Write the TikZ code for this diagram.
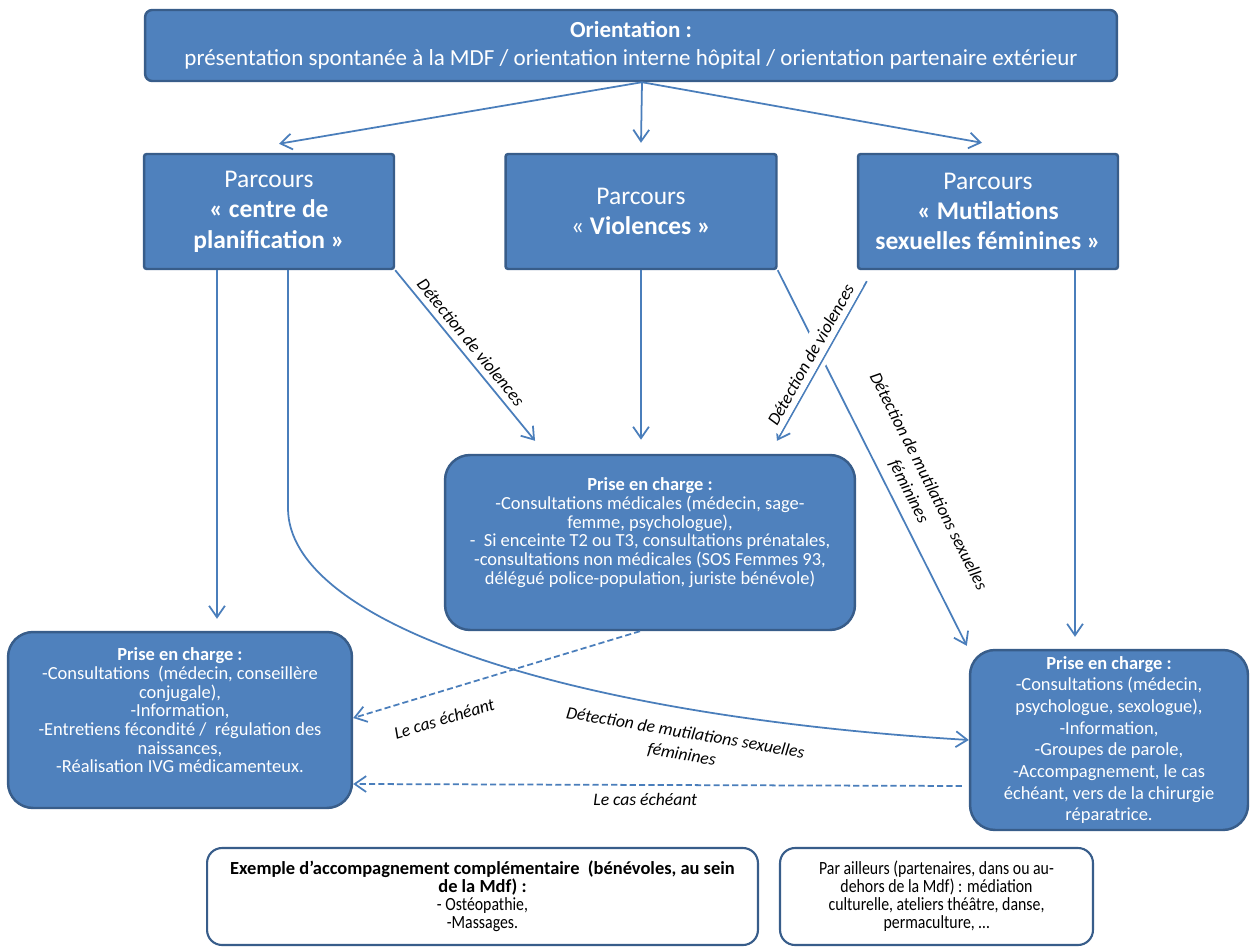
\documentclass[tikz,border=0pt]{standalone}
\usepackage{fontspec}
\setmainfont{Carlito}
\newfontfamily\narrowfont{Carlito}[FakeStretch=0.85]
\usetikzlibrary{arrows.meta}
\definecolor{boxblue}{HTML}{4F81BD}
\definecolor{boxedge}{HTML}{385D8A}
\definecolor{linkblue}{HTML}{4A7EBB}
\newcommand{\titrebas}[1]{{\rmfamily\bfseries\fontsize{10.5}{9.9}\selectfont #1}}
\tikzset{
	parcours/.style={draw=boxedge, line width=1.4pt, fill=boxblue, text=white, align=center, rounded corners=1.5pt, font=\fontsize{14.5}{17.3}\selectfont},
	prise/.style={draw=boxedge, line width=1.4pt, fill=boxblue, text=white, align=center, rounded corners=0.5cm, font=\fontsize{10.5}{10.6}\selectfont, inner sep=2pt},
	extra/.style={draw=boxedge, line width=1.2pt, fill=white, text=black, align=center, rounded corners=0.3cm, font=\narrowfont\fontsize{10.6}{10.2}\selectfont},
	link/.style={draw=linkblue, line width=1pt, -{Straight Barb[length=6.5pt,width=9pt]}},
	pointille/.style={dash pattern=on 3.5pt off 1.8pt},
	etiq/.style={font=\itshape\fontsize{10}{12.5}\selectfont, text=black, sloped}
}
\begin{document}
\begin{tikzpicture}[x=0.02cm, y=-0.02cm]
	\useasboundingbox (0,0) rectangle (1250,952);
	\fill[white] (0,0) rectangle (1250,952);

	\node[parcours, minimum width=19.44cm, minimum height=1.42cm, rounded corners=4pt, font=\fontsize{13.1}{16}\selectfont] (orient) at (631,45.5) {\textbf{Orientation :}\\présentation spontanée à la MDF / orientation interne hôpital / orientation partenaire extérieur};

	\node[parcours, minimum width=5cm, minimum height=2.3cm] (plan) at (269,211.5) {Parcours\\\textbf{« centre de}\\\textbf{planification »}};
	\node[parcours, minimum width=5.42cm, minimum height=2.3cm] (viol) at (641,211.5) {Parcours\\« \textbf{Violences »}};
	\node[parcours, minimum width=5.2cm, minimum height=2.3cm] (msf) at (988,211.5) {Parcours\\\textbf{« Mutilations}\\\textbf{sexuelles féminines »}};

	\node[prise, minimum width=8.2cm, minimum height=3.5cm, text depth=13pt] (pecviol) at (650,542.5) {\textbf{Prise en charge :}\\-Consultations médicales (médecin, sage-\\femme, psychologue),\\-\ \ Si enceinte T2 ou T3, consultations prénatales,\\-consultations non médicales (SOS Femmes 93,\\délégué police-population, juriste bénévole)};
	\node[prise, minimum width=6.88cm, minimum height=3.52cm, text depth=11pt] (pecplan) at (180,720) {\textbf{Prise en charge :}\\-Consultations\ \ (médecin, conseillère\\conjugale),\\-Information,\\-Entretiens fécondité /\ \ régulation des\\naissances,\\-Réalisation IVG médicamenteux.};
	\node[prise, minimum width=5.56cm, minimum height=3.6cm, font=\fontsize{10.5}{12.3}\selectfont] (pecmsf) at (1109,740) {\textbf{Prise en charge :}\\-Consultations (médecin,\\psychologue, sexologue),\\-Information,\\-Groupes de parole,\\-Accompagnement, le cas\\échéant, vers de la chirurgie\\réparatrice.};

	\node[extra, minimum width=11.02cm, minimum height=1.94cm] (accomp) at (482.5,896.5) {\titrebas{Exemple d’accompagnement complémentaire\ \ (bénévoles, au sein}\\\titrebas{de la Mdf) :}\\- Ostéopathie,\\-Massages.};
	\node[extra, minimum width=6.26cm, minimum height=1.94cm] (ailleurs) at (936.5,896.5) {Par ailleurs (partenaires, dans ou au-\\dehors de la Mdf) : médiation\\culturelle, ateliers théâtre, danse,\\permaculture, …};

	\draw[link] ([xshift=0.22cm]orient.south) -- ([xshift=0.2cm,yshift=0.18cm]plan.north);
	\draw[link] ([xshift=0.22cm]orient.south) -- ([yshift=0.2cm]viol.north);
	\draw[link] ([xshift=0.22cm]orient.south) -- ([xshift=-0.12cm,yshift=0.2cm]msf.north);

	\draw[link] ([xshift=-1.04cm]plan.south) -- ([xshift=0.74cm,yshift=0.24cm]pecplan.north);
	\draw[link] ([xshift=0.38cm]plan.south) -- ++(0,238) .. controls +(0,113) and +(-410,-25) .. (pecmsf.west) node[etiq, pos=0.75, below=6pt, align=center] {Détection de mutilations sexuelles\\féminines};
	\draw[link] (plan.south east) -- ([xshift=-2.3cm,yshift=0.26cm]pecviol.north) node[etiq, pos=0.47, above] {Détection de violences};
	\draw[link, shorten >=8pt] (viol.south) -- (viol.south |- pecviol.north);

	\draw[link] (viol.south east) -- ([xshift=-0.04cm,yshift=0.06cm]pecmsf.north west) node[etiq, pos=0.61, above=2pt, align=center] {Détection de mutilations sexuelles\\féminines};
	\draw[link, preaction={draw=white, line width=6pt, -}] ([xshift=0.2cm,yshift=-0.22cm]msf.south west) -- ([xshift=2.54cm,yshift=0.26cm]pecviol.north) node[etiq, pos=0.5, above, fill=white] {Détection de violences};
	\draw[link] ([xshift=1.74cm]msf.south) -- ([xshift=-0.68cm,yshift=0.24cm]pecmsf.north);

	\draw[link, pointille] ([xshift=-0.2cm]pecviol.south) -- ([yshift=0.04cm]pecplan.east) node[etiq, pos=0.71, below=8pt] {Le cas échéant};
	\draw[link, pointille] ([xshift=-0.14cm,yshift=-0.92cm]pecmsf.west) -- ([yshift=-1.28cm]pecplan.east) node[etiq, pos=0.52, below=1pt] {Le cas échéant};
\end{tikzpicture}
\end{document}
